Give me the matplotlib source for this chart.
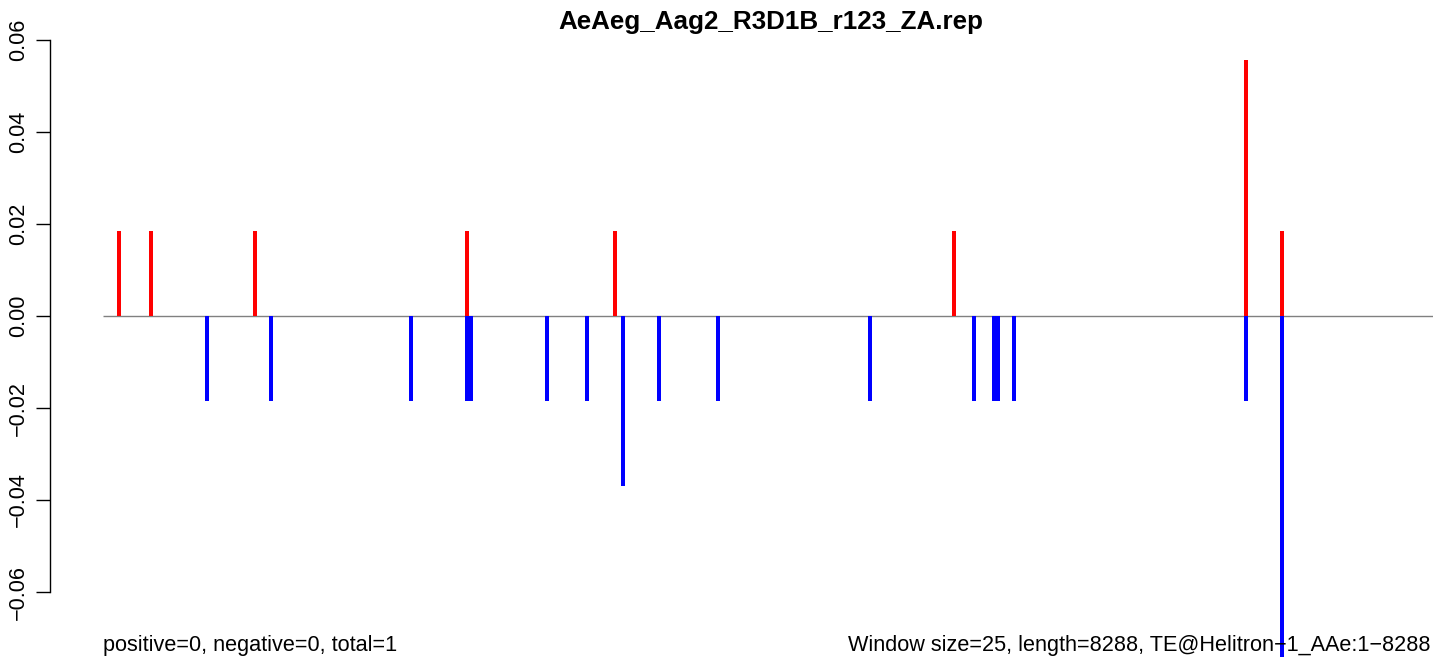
import numpy as np
import matplotlib
matplotlib.use('Agg')
import matplotlib.pyplot as plt

plt.rcParams['font.family'] = ['Liberation Sans', 'DejaVu Sans']

# Track settings
title = 'AeAeg_Aag2_R3D1B_r123_ZA.rep'
window = 25
length = 8288
te_name = 'TE@Helitron\u22121_AAe:1\u22128288'
unit = 1 / 54

# Window starts (bp) and normalised counts, sense strand (red) and antisense (blue)
pos_x = [100, 300, 950, 2275, 3200, 5325, 7150, 7375]
pos_n = [1, 1, 1, 1, 1, 1, 3, 1]
neg_x = [650, 1050, 1925, 2275, 2300, 2775, 3025, 3250, 3475, 3850,
         4800, 5450, 5575, 5600, 5700, 7150, 7375]
neg_n = [1, 1, 1, 1, 1, 1, 1, 2, 1, 1,
         1, 1, 1, 1, 1, 1, 4]

pos_y = np.array(pos_n) * unit
neg_y = -np.array(neg_n) * unit

W, H = 1433, 662
base = 15.6
fig = plt.figure(figsize=(W / 100, H / 100), dpi=100)

# plot region like R's, 4% padding on both axes
xlo, xhi = -0.04 * length, 1.04 * length
ymin, ymax = neg_y.min(), pos_y.max()
yr = ymax - ymin
ylo, yhi = ymin - 0.04 * yr, ymax + 0.04 * yr

px_per_bp = (1428 - 103) / length
ax_w = (xhi - xlo) * px_per_bp
px_per_y = 4600
ax_h = (yhi - ylo) * px_per_y
top_px = 316 - yhi * px_per_y
ax = fig.add_axes([50 / W, 1 - (top_px + ax_h) / H, ax_w / W, ax_h / H])
ax.set_xlim(xlo, xhi)
ax.set_ylim(ylo, yhi)

ax.hlines(0, 0, length + 30, color='#808080', lw=1, zorder=1)
ax.bar(pos_x, pos_y, width=window, color='#ff0000', linewidth=0, zorder=2)
ax.bar(neg_x, neg_y, width=window, color='#0000ff', linewidth=0, zorder=2)

for s in ['top', 'right', 'bottom']:
    ax.spines[s].set_visible(False)
ax.spines['left'].set_bounds(-0.06, 0.06)
ax.spines['left'].set_linewidth(1)
ax.set_xticks([])
yt = np.round(np.arange(-0.06, 0.061, 0.02), 2)
ax.set_yticks(yt)
ax.set_yticklabels([('%.2f' % abs(v)) if v >= 0 else '\u2212%.2f' % abs(v) for v in yt],
                   rotation=90, va='center', fontsize=base)
ax.tick_params(axis='y', length=10, width=1, pad=5)

fig.text(771 / W, 1 - 29 / H, title, ha='center', va='baseline',
         fontsize=base * 1.2, fontweight='bold')
fig.text(103 / W, 1 - 651 / H, 'positive=0, negative=0, total=1',
         ha='left', va='baseline', fontsize=base)
fig.text(1430 / W, 1 - 651 / H,
         'Window size=%d, length=%d, %s' % (window, length, te_name),
         ha='right', va='baseline', fontsize=base, zorder=0)

fig.savefig('out.png', dpi=100)
